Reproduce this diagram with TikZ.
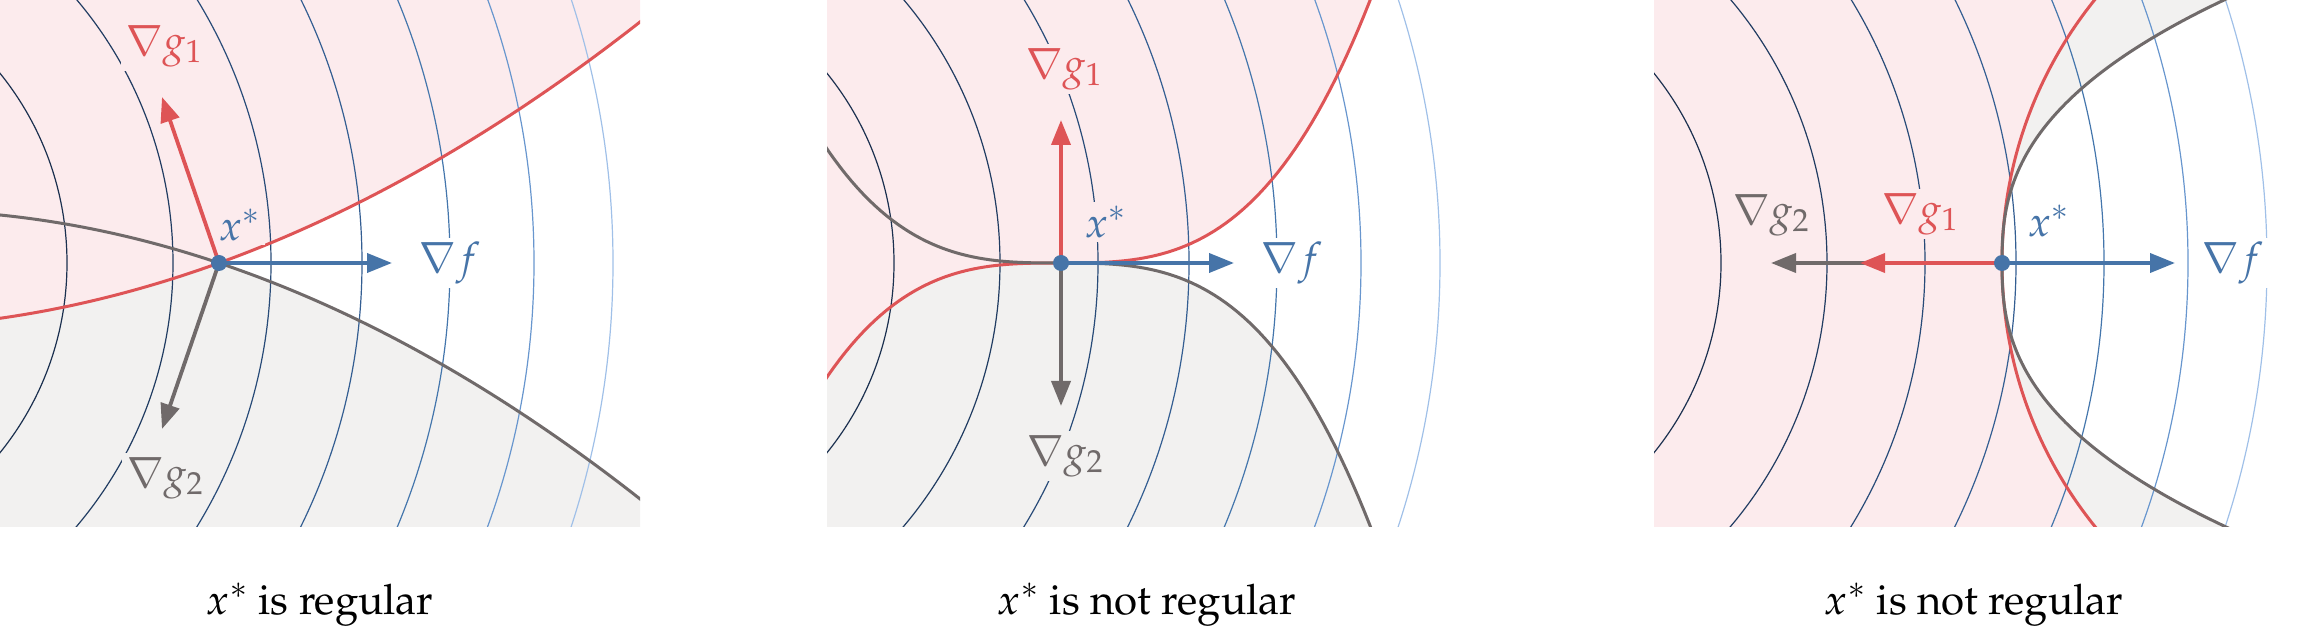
\documentclass[tikz,border=0pt]{standalone}
\usepackage[T1]{fontenc}
\usepackage{mathpazo}
\usetikzlibrary{arrows.meta}
\definecolor{pinkbg}{RGB}{252,235,237}
\definecolor{graybg}{RGB}{242,241,240}
\definecolor{redc}{RGB}{222,84,86}
\definecolor{grayc}{RGB}{112,106,106}
\definecolor{bluec}{RGB}{70,116,168}
\definecolor{cA}{RGB}{27,48,79}
\definecolor{cB}{RGB}{33,60,98}
\definecolor{cC}{RGB}{40,75,120}
\definecolor{cD}{RGB}{52,94,146}
\definecolor{cE}{RGB}{68,118,172}
\definecolor{cF}{RGB}{104,150,206}
\definecolor{cG}{RGB}{160,192,232}
\newcommand{\fcontours}{%
  \foreach \r/\c in {151pt/cA,204pt/cB,253pt/cC,298.5pt/cD,342.5pt/cE,384.5pt/cF,424pt/cG}
    {\draw[contour,\c] (-235,263) circle[radius=\r];}}
\begin{document}
\begin{tikzpicture}[x=0.5pt,y=-0.5pt,
  declare function={sq(\t)=\t*\t; cb(\t)=\t*\t*\t; gp(\t)=sq(abs(\t-263)/263)*sqrt(abs(\t-263)/263);},
  contour/.style={line width=0.6pt},
  redcurve/.style={draw=redc, line width=1.5pt},
  graycurve/.style={draw=grayc, line width=1.5pt},
  garrow/.style={line width=1.9pt, -{Triangle[length=12.5pt,width=9.5pt]}},
  xdot/.style={circle, fill=bluec, inner sep=0pt, minimum size=8pt},
  lab/.style={inner sep=2pt, font=\fontsize{21}{25}\selectfont},
  caption/.style={anchor=base, inner sep=0pt, font=\fontsize{21}{25}\selectfont}]
\useasboundingbox (0,0) rectangle (2308,641);

% ---------------- panel 1 ----------------
\begin{scope}
  \begin{scope}
    \clip (0,0) rectangle (640,526);
    \fill[graybg] plot[domain=-10:650, samples=80] (\x,{263+0.336*(\x-219)+5.33*sq((\x-219)/100)}) -- (650,540) -- (-10,540) -- cycle;
    \fill[pinkbg] plot[domain=-10:650, samples=80] (\x,{263-0.362*(\x-219)-5*sq((\x-219)/100)}) -- (650,-10) -- (-10,-10) -- cycle;
    \fcontours
    \draw[redcurve] plot[domain=-10:650, samples=80] (\x,{263-0.362*(\x-219)-5*sq((\x-219)/100)});
    \draw[graycurve] plot[domain=-10:650, samples=80] (\x,{263+0.336*(\x-219)+5.33*sq((\x-219)/100)});
  \end{scope}
  \coordinate (p1o) at (219,263);
  \coordinate (p1f) at (392,263);
  \coordinate (p1a) at (162,97);
  \coordinate (p1b) at (162,429);
  \draw[garrow, bluec] (p1o) -- (p1f);
  \draw[garrow, redc] (p1o) -- (p1a);
  \draw[garrow, grayc] (p1o) -- (p1b);
  \node[xdot] (p1x) at (p1o) {};
  \node[lab, fill=pinkbg, text=redc] (p1la) at (164,46) {$\nabla g_1$};
  \node[lab, fill=graybg, text=grayc] (p1lb) at (165,478) {$\nabla g_2$};
  \node[lab, fill=pinkbg, text=bluec] (p1lx) at (240,225) {$x^*$};
  \node[lab, fill=white, text=bluec] (p1lf) at (450,263) {$\nabla f$};
  \node[caption] (cap1) at (320,614) {$x^*$ is regular};
\end{scope}

% ---------------- panel 2 ----------------
\begin{scope}[shift={(827,0)}]
  \begin{scope}
    \clip (0,0) rectangle (640,526);
    \fill[graybg] plot[domain=-10:560, samples=100] (\x,{263+8.9*cb((\x-234)/100)}) -- (-10,620) -- cycle;
    \fill[pinkbg] plot[domain=-10:560, samples=100] (\x,{263-8.9*cb((\x-234)/100)}) -- (-10,-100) -- cycle;
    \fcontours
    \draw[redcurve] plot[domain=-10:560, samples=100] (\x,{263-8.9*cb((\x-234)/100)});
    \draw[graycurve] plot[domain=-10:560, samples=100] (\x,{263+8.9*cb((\x-234)/100)});
  \end{scope}
  \coordinate (p2o) at (234,263);
  \coordinate (p2f) at (407,263);
  \coordinate (p2a) at (234,120);
  \coordinate (p2b) at (234,406);
  \draw[garrow, bluec] (p2o) -- (p2f);
  \draw[garrow, redc] (p2o) -- (p2a);
  \draw[garrow, grayc] (p2o) -- (p2b);
  \node[xdot] (p2x) at (p2o) {};
  \node[lab, fill=pinkbg, text=redc] (p2la) at (237,69) {$\nabla g_1$};
  \node[lab, fill=graybg, text=grayc] (p2lb) at (238,456) {$\nabla g_2$};
  \node[lab, fill=pinkbg, text=bluec] (p2lx) at (279,222) {$x^*$};
  \node[lab, fill=white, text=bluec] (p2lf) at (465,263) {$\nabla f$};
  \node[caption] (cap2) at (320,614) {$x^*$ is not regular};
\end{scope}

% ---------------- panel 3 ----------------
\begin{scope}[shift={(1654,0)}]
  \begin{scope}
    \clip (0,0) rectangle (640,526);
    \fill[graybg] plot[variable=\t, domain=-10:536, samples=121] ({348+222*gp(\t)},\t) -- (-10,536) -- (-10,-10) -- cycle;
    \fill[pinkbg, even odd rule] (-10,-10) rectangle (650,536) (768,263) circle[radius=210pt];
    \fcontours
    \draw[redcurve] (768,263) circle[radius=210pt];
    \draw[graycurve] plot[variable=\t, domain=-10:536, samples=121] ({348+222*gp(\t)},\t);
  \end{scope}
  \coordinate (p3o) at (348,263);
  \coordinate (p3f) at (521,263);
  \coordinate (p3a) at (206,263);
  \coordinate (p3b) at (117,263);
  \draw[garrow, grayc] (p3o) -- (p3b);
  \draw[garrow, redc] (p3o) -- (p3a);
  \draw[garrow, bluec] (p3o) -- (p3f);
  \node[xdot] (p3x) at (p3o) {};
  \node[lab, fill=pinkbg, text=redc] (p3la) at (266,214) {$\nabla g_1$};
  \node[lab, fill=pinkbg, text=grayc] (p3lb) at (117,215) {$\nabla g_2$};
  \node[lab, fill=white, text=bluec] (p3lx) at (395,221) {$x^*$};
  \node[lab, fill=white, text=bluec] (p3lf) at (579,263) {$\nabla f$};
  \node[caption] (cap3) at (320,614) {$x^*$ is not regular};
\end{scope}
\end{tikzpicture}
\end{document}
